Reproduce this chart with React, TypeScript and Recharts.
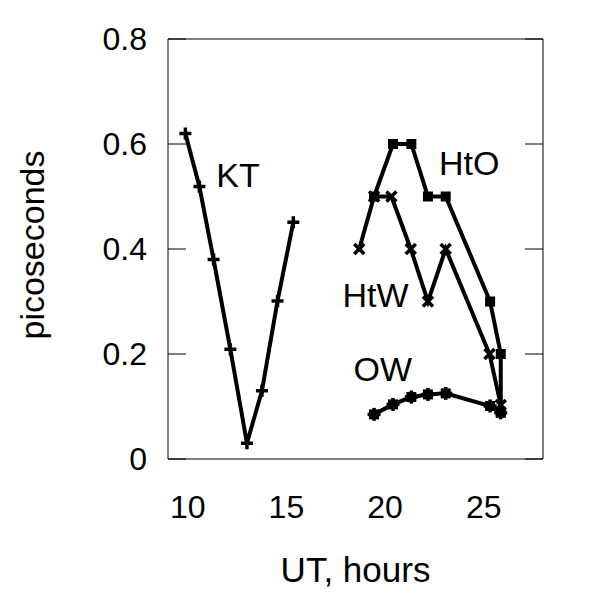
import { LineChart, Line, XAxis, YAxis, ReferenceDot, Label } from "recharts";

const FONT = "Liberation Sans, Arial, Helvetica, sans-serif";

const X_TICKS = [10, 15, 20, 25];
const Y_TICKS = [0, 0.2, 0.4, 0.6, 0.8];

const KT = [
  { t: 9.88, ps: 0.62 },
  { t: 10.59, ps: 0.519 },
  { t: 11.31, ps: 0.38 },
  { t: 12.16, ps: 0.209 },
  { t: 13.0, ps: 0.03 },
  { t: 13.76, ps: 0.13 },
  { t: 14.55, ps: 0.301 },
  { t: 15.35, ps: 0.451 },
];

const HTO = [
  { t: 19.44, ps: 0.5 },
  { t: 20.4, ps: 0.6 },
  { t: 21.33, ps: 0.6 },
  { t: 22.17, ps: 0.5 },
  { t: 23.07, ps: 0.5 },
  { t: 25.32, ps: 0.3 },
  { t: 25.86, ps: 0.2 },
  { t: 25.86, ps: 0.09 },
];

const HTW = [
  { t: 18.69, ps: 0.4 },
  { t: 19.44, ps: 0.5 },
  { t: 20.32, ps: 0.5 },
  { t: 21.3, ps: 0.4 },
  { t: 22.17, ps: 0.3 },
  { t: 23.07, ps: 0.4 },
  { t: 25.29, ps: 0.2 },
  { t: 25.86, ps: 0.103 },
];

const OW = [
  { t: 19.44, ps: 0.085 },
  { t: 20.4, ps: 0.104 },
  { t: 21.33, ps: 0.118 },
  { t: 22.17, ps: 0.123 },
  { t: 23.07, ps: 0.125 },
  { t: 25.32, ps: 0.101 },
  { t: 25.86, ps: 0.088 },
];

// in-plot series names, anchored at left / middle of the text
const NAMES = [
  { name: "KT", t: 11.45, ps: 0.541 },
  { name: "HtO", t: 22.73, ps: 0.563 },
  { name: "HtW", t: 17.84, ps: 0.312 },
  { name: "OW", t: 18.4, ps: 0.171 },
];

const plusDot = (p: any) => (
  <g key={`p-${p.index}`} stroke="#000" strokeWidth={3.5}>
    <line x1={p.cx - 6} y1={p.cy} x2={p.cx + 6} y2={p.cy} />
    <line x1={p.cx} y1={p.cy - 6} x2={p.cx} y2={p.cy + 6} />
  </g>
);

const crossDot = (p: any) => (
  <g key={`x-${p.index}`} stroke="#000" strokeWidth={3.5}>
    <line x1={p.cx - 5} y1={p.cy - 5} x2={p.cx + 5} y2={p.cy + 5} />
    <line x1={p.cx - 5} y1={p.cy + 5} x2={p.cx + 5} y2={p.cy - 5} />
  </g>
);

const squareDot = (p: any) => (
  <rect key={`s-${p.index}`} x={p.cx - 5} y={p.cy - 5} width={10} height={10} fill="#000" />
);

const blobDot = (p: any) => (
  <g key={`b-${p.index}`}>
    <rect x={p.cx - 5} y={p.cy - 5} width={10} height={10} fill="#000" />
    <g stroke="#000" strokeWidth={3.5}>
      <line x1={p.cx - 6.5} y1={p.cy} x2={p.cx + 6.5} y2={p.cy} />
      <line x1={p.cx} y1={p.cy - 6.5} x2={p.cx} y2={p.cy + 6.5} />
    </g>
  </g>
);

const tickStyle = { fontSize: 32, fill: "#000", fontFamily: FONT };

const App = () => {
  return (
    <div style={{ width: 592, height: 592 }}>
      <LineChart
        width={592}
        height={592}
        margin={{ top: 31, right: 57, bottom: 0, left: 0 }}
      >
        <XAxis
          xAxisId="x"
          type="number"
          dataKey="t"
          domain={[9, 28]}
          allowDataOverflow
          ticks={X_TICKS}
          height={141}
          tickSize={0}
          tickLine={false}
          tickMargin={36}
          axisLine={{ stroke: "#000", strokeWidth: 1 }}
          tick={tickStyle}
        >
          <Label
            content={({ viewBox }: any) => (
              <text
                x={viewBox.x + viewBox.width / 2}
                y={viewBox.y + 123}
                textAnchor="middle"
                fontSize={35}
                fontFamily={FONT}
                fill="#000"
              >
                UT, hours
              </text>
            )}
          />
        </XAxis>
        <XAxis
          xAxisId="xb"
          type="number"
          orientation="bottom"
          mirror
          domain={[9, 28]}
          allowDataOverflow
          ticks={X_TICKS}
          tick={() => <g />}
          tickSize={18}
          tickLine={{ stroke: "#000" }}
          axisLine={false}
        />
        <XAxis
          xAxisId="xt"
          type="number"
          orientation="top"
          mirror
          domain={[9, 28]}
          allowDataOverflow
          ticks={X_TICKS}
          tick={() => <g />}
          tickSize={18}
          tickLine={{ stroke: "#000" }}
          axisLine={{ stroke: "#000" }}
        />
        <YAxis
          yAxisId="y"
          type="number"
          domain={[0, 0.8]}
          allowDataOverflow
          ticks={Y_TICKS}
          width={160}
          tickSize={0}
          tickLine={false}
          tickMargin={21}
          axisLine={{ stroke: "#000", strokeWidth: 1 }}
          tick={tickStyle}
        >
          <Label
            content={({ viewBox }: any) => {
              const x = viewBox.x + 36;
              const y = viewBox.y + viewBox.height / 2 - 4;
              return (
                <text
                  x={x}
                  y={y}
                  transform={`rotate(-90, ${x}, ${y})`}
                  textAnchor="middle"
                  fontSize={34}
                  fontFamily={FONT}
                  fill="#000"
                >
                  picoseconds
                </text>
              );
            }}
          />
        </YAxis>
        <YAxis
          yAxisId="yl"
          type="number"
          orientation="left"
          mirror
          domain={[0, 0.8]}
          allowDataOverflow
          ticks={Y_TICKS}
          tick={() => <g />}
          tickSize={18}
          tickLine={{ stroke: "#000" }}
          axisLine={false}
        />
        <YAxis
          yAxisId="yr"
          type="number"
          orientation="right"
          mirror
          domain={[0, 0.8]}
          allowDataOverflow
          ticks={Y_TICKS}
          tick={() => <g />}
          tickSize={18}
          tickLine={{ stroke: "#000" }}
          axisLine={{ stroke: "#000" }}
        />

        <Line xAxisId="x" yAxisId="y" data={KT} dataKey="ps" stroke="#000" strokeWidth={4}
          dot={plusDot} activeDot={false} isAnimationActive={false} />
        <Line xAxisId="x" yAxisId="y" data={HTW} dataKey="ps" stroke="#000" strokeWidth={4}
          dot={crossDot} activeDot={false} isAnimationActive={false} />
        <Line xAxisId="x" yAxisId="y" data={HTO} dataKey="ps" stroke="#000" strokeWidth={4}
          dot={squareDot} activeDot={false} isAnimationActive={false} />
        <Line xAxisId="x" yAxisId="y" data={OW} dataKey="ps" stroke="#000" strokeWidth={4}
          dot={blobDot} activeDot={false} isAnimationActive={false} />

        {NAMES.map((n) => (
          <ReferenceDot
            key={n.name}
            xAxisId="x"
            yAxisId="y"
            x={n.t}
            y={n.ps}
            r={0}
            fill="none"
            stroke="none"
            label={({ viewBox }: any) => (
              <text
                x={viewBox.x + viewBox.width / 2}
                y={viewBox.y + viewBox.height / 2}
                dominantBaseline="central"
                textAnchor="start"
                fontSize={34}
                fontFamily={FONT}
                fill="#000"
              >
                {n.name}
              </text>
            )}
          />
        ))}
      </LineChart>
    </div>
  );
};

export default App;
